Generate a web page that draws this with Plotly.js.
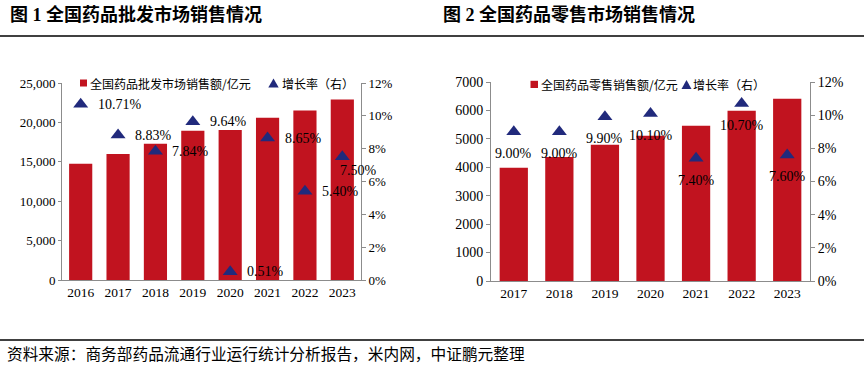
<!DOCTYPE html>
<html>
<head>
<meta charset="utf-8">
<script src="https://cdn.plot.ly/plotly-3.0.1.min.js"></script>
<style>html,body{margin:0;padding:0;background:#fff;}#chart{width:864px;height:368px;}</style>
</head>
<body>
<div id="chart"></div>
<script>
// ---- data ----
const wholesaleYears = ['2016','2017','2018','2019','2020','2021','2022','2023'];
const wholesaleSales = [14750, 16000, 17300, 18950, 19050, 20600, 21500, 22900];
const wholesaleGrowth = [10.71, 8.83, 7.84, 9.64, 0.51, 8.65, 5.40, 7.50];

const retailYears = ['2017','2018','2019','2020','2021','2022','2023'];
const retailSales = [3980, 4365, 4790, 5105, 5460, 5990, 6410];
const retailGrowth = [9.00, 9.00, 9.90, 10.10, 7.40, 10.70, 7.60];

const title1 = '图 1 全国药品批发市场销售情况';
const title2 = '图 2 全国药品零售市场销售情况';
const legend1Bar = '全国药品批发市场销售额/亿元';
const legend2Bar = '全国药品零售销售额/亿元';
const legendLine = '增长率（右）';
const sourceText = '资料来源：商务部药品流通行业运行统计分析报告，米内网，中证鹏元整理';

// ---- style ----
const W = 864, H = 368;
const RED = '#C1131F';
const NAVY = '#212A7C';
const AX = '#8C8C8C';
const SERIF = 'Liberation Serif, Times New Roman, serif';
const CJK = 'Noto Sans CJK SC, sans-serif';
const px = x => x / W;
const py = y => 1 - y / H;

const traces = [
  {type:'bar', x: wholesaleYears, y: wholesaleSales, xaxis:'x', yaxis:'y',
   marker:{color: RED}, width: 0.62, showlegend:false, hoverinfo:'skip'},
  {type:'scatter', mode:'markers', x: wholesaleYears, y: wholesaleGrowth, xaxis:'x', yaxis:'y2',
   marker:{symbol:'triangle-up', color: NAVY, size: 13}, showlegend:false, cliponaxis:false},
  {type:'bar', x: retailYears, y: retailSales, xaxis:'x2', yaxis:'y3',
   marker:{color: RED}, width: 0.62, showlegend:false},
  {type:'scatter', mode:'markers', x: retailYears, y: retailGrowth, xaxis:'x2', yaxis:'y4',
   marker:{symbol:'triangle-up', color: NAVY, size: 13}, showlegend:false, cliponaxis:false}
];

const annotations = [];
wholesaleYears.forEach((yr, i) => {
  const last = i === wholesaleYears.length - 1;
  annotations.push({xref:'x', yref:'y2', x: i, y: wholesaleGrowth[i],
    text: wholesaleGrowth[i].toFixed(2) + '%', showarrow:false,
    xanchor:'left', yanchor:'middle', xshift: last ? -4 : 15, yshift: last ? -14 : 0,
    font:{family: SERIF, size: 14, color:'#000'}});
});
retailYears.forEach((yr, i) => {
  annotations.push({xref:'x2', yref:'y4', x: i, y: retailGrowth[i],
    text: retailGrowth[i].toFixed(2) + '%', showarrow:false,
    xanchor:'center', yanchor:'middle', yshift: -22,
    font:{family: SERIF, size: 14, color:'#000'}});
});
// titles
annotations.push({xref:'paper', yref:'paper', x: px(8), y: py(14), xanchor:'left', yanchor:'middle',
  text:'<b>' + title1 + '</b>', showarrow:false, font:{family: SERIF + ',' + CJK, size:18, color:'#000'}});
annotations.push({xref:'paper', yref:'paper', x: px(441), y: py(14), xanchor:'left', yanchor:'middle',
  text:'<b>' + title2 + '</b>', showarrow:false, font:{family: SERIF + ',' + CJK, size:18, color:'#000'}});
// legends text
annotations.push({xref:'paper', yref:'paper', x: px(88), y: py(83), xanchor:'left', yanchor:'middle',
  text: legend1Bar, showarrow:false, font:{family: CJK, size:12, color:'#000'}});
annotations.push({xref:'paper', yref:'paper', x: px(280), y: py(83), xanchor:'left', yanchor:'middle',
  text: legendLine, showarrow:false, font:{family: CJK, size:12, color:'#000'}});
annotations.push({xref:'paper', yref:'paper', x: px(539), y: py(84.5), xanchor:'left', yanchor:'middle',
  text: legend2Bar, showarrow:false, font:{family: CJK, size:12, color:'#000'}});
annotations.push({xref:'paper', yref:'paper', x: px(691), y: py(84.5), xanchor:'left', yanchor:'middle',
  text: legendLine, showarrow:false, font:{family: CJK, size:12, color:'#000'}});
// source
annotations.push({xref:'paper', yref:'paper', x: px(5), y: py(353), xanchor:'left', yanchor:'middle',
  text: sourceText, showarrow:false, font:{family: CJK, size:15.7, color:'#000'}});

function tri(cx, top, bottom, halfw) {
  return `M ${px(cx - halfw)} ${py(bottom)} L ${px(cx + halfw)} ${py(bottom)} L ${px(cx)} ${py(top)} Z`;
}

const shapes = [
  {type:'line', xref:'paper', yref:'paper', x0:0, x1:1, y0:py(36), y1:py(36), line:{color:'#000', width:1.5}},
  {type:'line', xref:'paper', yref:'paper', x0:0, x1:1, y0:py(340), y1:py(340), line:{color:'#000', width:1.5}},
  {type:'rect', xref:'paper', yref:'paper', x0:px(80), x1:px(87), y0:py(86.5), y1:py(79.5), fillcolor:RED, line:{width:0}},
  {type:'path', xref:'paper', yref:'paper', path: tri(273.5, 78.5, 87.5, 5.2), fillcolor:NAVY, line:{width:0}},
  {type:'rect', xref:'paper', yref:'paper', x0:px(530.5), x1:px(538), y0:py(88), y1:py(80.8), fillcolor:RED, line:{width:0}},
  {type:'path', xref:'paper', yref:'paper', path: tri(686.5, 80, 89, 5), fillcolor:NAVY, line:{width:0}}
];

const tickFont = {family: SERIF, size: 13, color:'#000'};
const yearFont = {family: SERIF, size: 13.5, color:'#000'};

const layout = {
  width: W, height: H, margin:{l:0, r:0, t:0, b:0},
  paper_bgcolor:'#fff', plot_bgcolor:'rgba(0,0,0,0)',
  showlegend:false,
  xaxis:{domain:[px(62), px(361)], anchor:'y', type:'category', range:[-0.5, wholesaleYears.length - 0.5],
    showline:true, linecolor:AX, linewidth:1,
    ticks:'', tickfont: yearFont, showgrid:false, zeroline:false},
  yaxis:{domain:[py(280), py(83)], anchor:'x', range:[0, 25000], dtick:5000, tickformat:',d',
    showline:true, linecolor:AX, linewidth:1, ticks:'outside', ticklen:3, tickcolor:AX,
    tickfont: tickFont, showgrid:false, zeroline:false},
  yaxis2:{overlaying:'y', anchor:'x', side:'right', range:[0, 12], dtick:2, ticksuffix:'%',
    showline:true, linecolor:AX, linewidth:1, ticks:'outside', ticklen:4, tickcolor:AX,
    tickfont: tickFont, showgrid:false, zeroline:false},
  xaxis2:{domain:[px(491), px(810)], anchor:'y3', type:'category', range:[-0.5, retailYears.length - 0.5],
    showline:true, linecolor:AX, linewidth:1,
    ticks:'', tickfont: yearFont, showgrid:false, zeroline:false},
  yaxis3:{domain:[py(281), py(82)], anchor:'x2', range:[0, 7000], dtick:1000, tickformat:'d',
    showline:true, linecolor:AX, linewidth:1, ticks:'outside', ticklen:4, tickcolor:AX,
    tickfont: {family: SERIF, size: 14, color:'#000'}, showgrid:false, zeroline:false},
  yaxis4:{overlaying:'y3', anchor:'x2', side:'right', range:[0, 12], dtick:2, ticksuffix:'%',
    showline:true, linecolor:AX, linewidth:1, ticks:'outside', ticklen:4, tickcolor:AX,
    tickfont: {family: SERIF, size: 14, color:'#000'}, showgrid:false, zeroline:false},
  annotations, shapes
};

Plotly.newPlot('chart', traces, layout, {staticPlot:true, displayModeBar:false});
</script>
</body>
</html>
